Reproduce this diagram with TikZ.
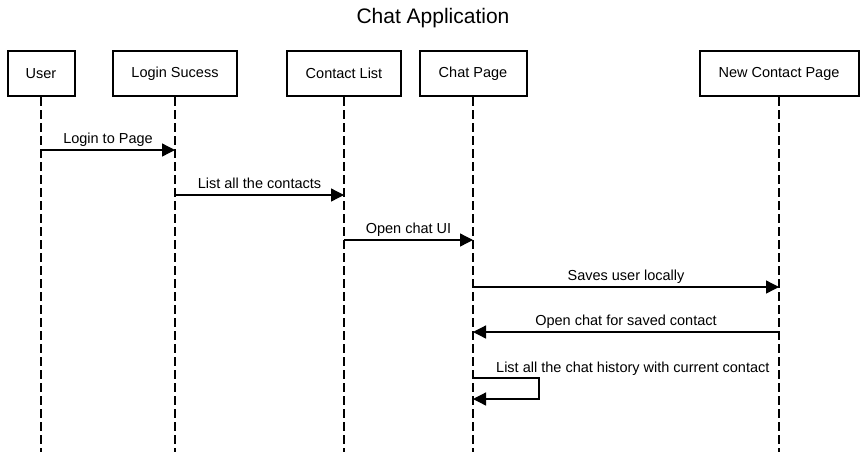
\documentclass[tikz,border=0pt]{standalone}
\usepackage{fontspec}
\setmainfont{Liberation Sans}
\usetikzlibrary{arrows.meta}
\begin{document}
\begin{tikzpicture}[x=1pt,y=-1pt,
  actor/.style={draw, line width=2pt, minimum height=45pt, inner sep=0pt, font=\fontsize{14.5}{17}\selectfont},
  life/.style={line width=1.2pt, dash pattern=on 9pt off 4pt},
  msg/.style={line width=1.3pt, -{Triangle[length=13pt,width=13pt]}},
  lbl/.style={font=\fontsize{14.5}{17}\selectfont, inner sep=0pt, anchor=base, yshift=6.5pt}]
\useasboundingbox (0,0) rectangle (866,456);
\fill[white] (0,0) rectangle (866,456);
\node[font=\fontsize{21}{25}\selectfont] (title) at (433,18) {Chat Application};
\node[actor, minimum width=67pt] (user) at (41,73.5) {User};
\node[actor, minimum width=124pt] (login) at (175,73.5) {Login Sucess};
\node[actor, minimum width=114pt] (contact) at (344,73.5) {Contact List};
\node[actor, minimum width=107pt] (chat) at (473,73.5) {Chat Page};
\node[actor, minimum width=159pt] (newc) at (779,73.5) {New Contact Page};
\foreach \n in {user,login,contact,chat,newc}{
  \coordinate (\n end) at (\n |- 0,452);
  \draw[life] (\n.south) -- (\n end);
}
\coordinate (m1) at (0,150);
\coordinate (m2) at (0,195);
\coordinate (m3) at (0,240);
\coordinate (m4) at (0,287);
\coordinate (m5) at (0,332);
\coordinate (m6) at (0,378);
\coordinate (m6b) at (0,399);
\draw[msg] (user |- m1) -- node[lbl] {Login to Page} (login |- m1);
\draw[msg] (login |- m2) -- node[lbl] {List all the contacts} (contact |- m2);
\draw[msg] (contact |- m3) -- node[lbl] {Open chat UI} (chat |- m3);
\draw[msg] (chat |- m4) -- node[lbl] {Saves user locally} (newc |- m4);
\draw[msg] (newc |- m5) -- node[lbl] {Open chat for saved contact} (chat |- m5);
\draw[msg] (chat |- m6) -- ++(66,0) |- (chat |- m6b);
\node[font=\fontsize{14.5}{17}\selectfont, inner sep=0pt, anchor=base west] (selflbl) at (496,372) {List all the chat history with current contact};
\end{tikzpicture}
\end{document}
